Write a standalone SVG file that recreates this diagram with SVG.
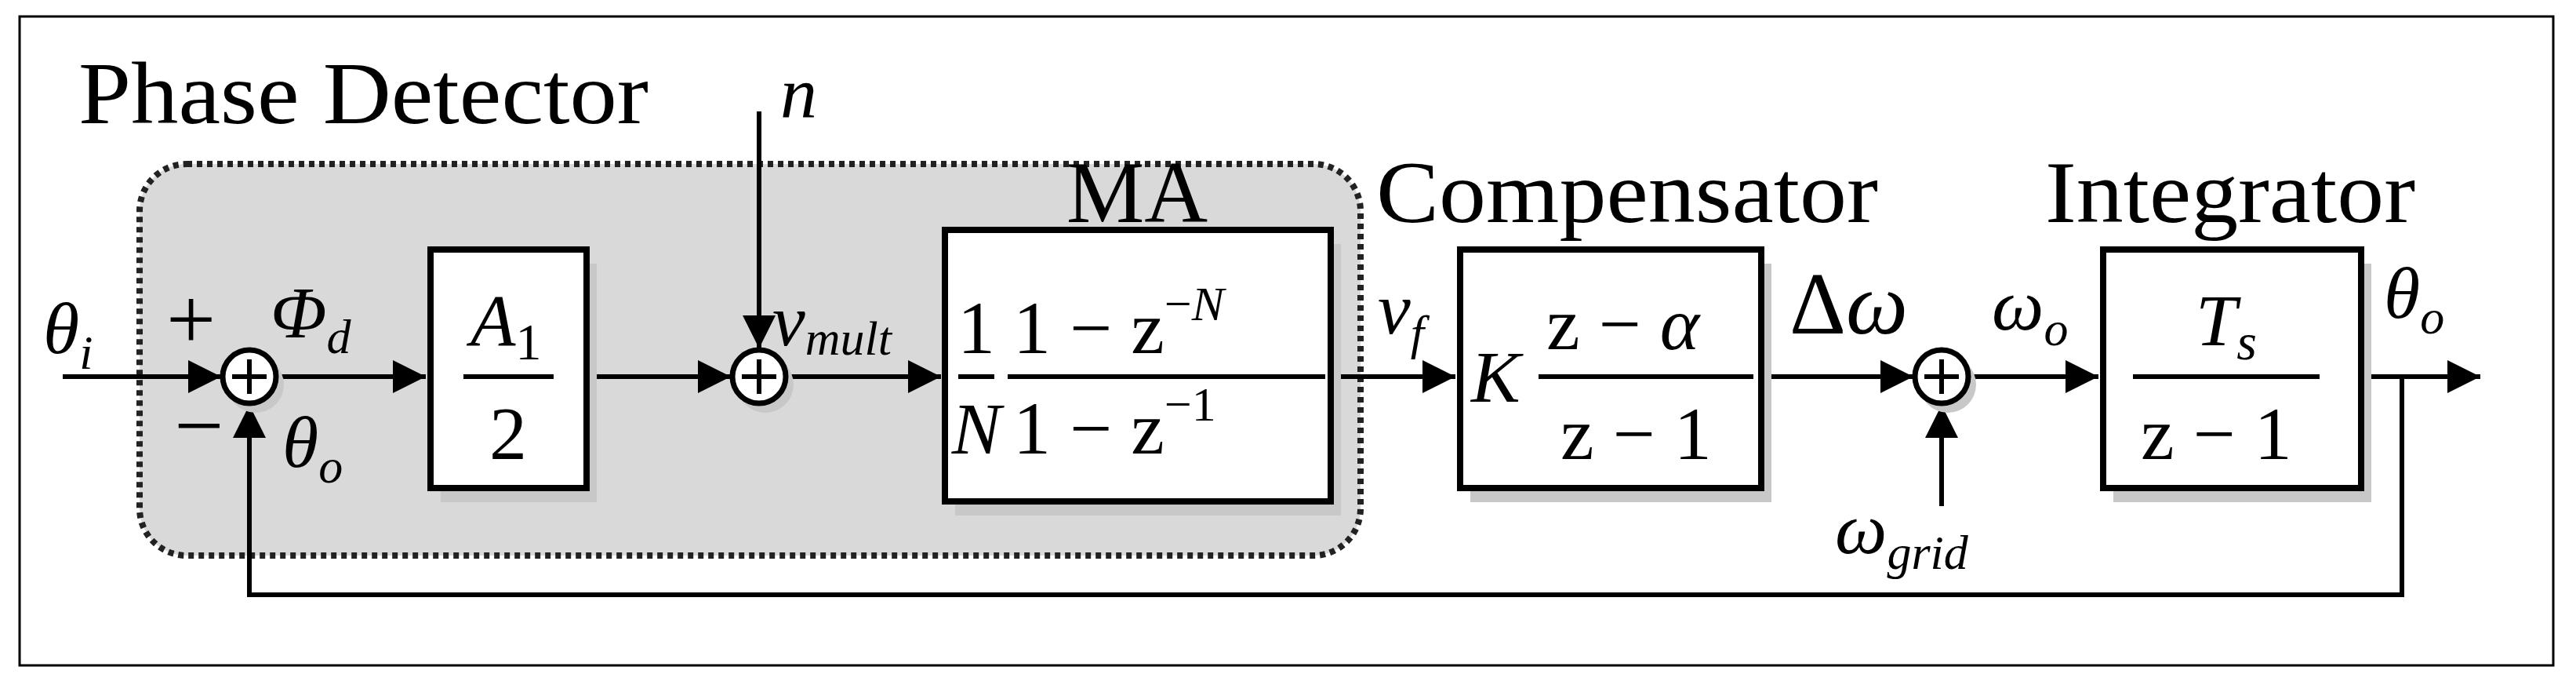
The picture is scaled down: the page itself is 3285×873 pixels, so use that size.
<svg xmlns="http://www.w3.org/2000/svg" width="3285" height="873" viewBox="0 0 3285 873">
<defs>
<style>
.box{fill:#fff;stroke:#000;stroke-width:8}
.sh{fill:#c8c8c8}
.ln{fill:none;stroke:#000;stroke-width:6}
.t{font-family:"Liberation Serif","Times New Roman",serif;fill:#000;font-size:112px}
.m{font-family:"Liberation Serif","Times New Roman",serif;font-style:italic;fill:#000;font-size:94px}
.f{font-family:"Liberation Serif","Times New Roman",serif;fill:#000;font-size:96px}
.fl{stroke:#000;stroke-width:6}
</style>
<marker id="a" viewBox="0 0 10 10" refX="10" refY="5" markerWidth="9" markerHeight="7" orient="auto"><path d="M0,0L10,5L0,10z" fill="#000"/></marker>
</defs>
<rect x="25" y="21" width="3231" height="827" fill="#fff" stroke="#000" stroke-width="3"/>
<g id="phase-detector">
<rect x="178" y="209" width="1557" height="499" rx="60" fill="#d9d9d9" stroke="#222" stroke-width="8" stroke-dasharray="7,6"/>
<text class="t" x="100" y="157" textLength="727" lengthAdjust="spacingAndGlyphs">Phase Detector</text>
</g>
<g id="connectors">
<path class="ln" d="M80,480H282" marker-end="url(#a)"/>
<path class="ln" d="M354,480H543" marker-end="url(#a)"/>
<path class="ln" d="M752,480H932" marker-end="url(#a)"/>
<path class="ln" d="M968,142V444" marker-end="url(#a)"/>
<path class="ln" d="M1004,480H1200" marker-end="url(#a)"/>
<path class="ln" d="M1701,480H1856" marker-end="url(#a)"/>
<path class="ln" d="M2250,480H2440" marker-end="url(#a)"/>
<path class="ln" d="M2476,645V516" marker-end="url(#a)"/>
<path class="ln" d="M2512,480H2676" marker-end="url(#a)"/>
<path class="ln" d="M3015,480H3163" marker-end="url(#a)"/>
<path class="ln" d="M3063,480V758H318V516" marker-end="url(#a)"/>
</g>
<g id="sum1"><circle cx="326" cy="490" r="36" class="sh"/><circle cx="318" cy="480" r="34" fill="#fff" stroke="#000" stroke-width="7"/><path class="fl" d="M296,480H340M318,458V502" stroke-width="7"/></g>
<g id="sum2"><circle cx="976" cy="490" r="36" class="sh"/><circle cx="968" cy="480" r="34" fill="#fff" stroke="#000" stroke-width="7"/><path class="fl" d="M946,480H990M968,458V502" stroke-width="7"/></g>
<g id="sum3"><circle cx="2484" cy="490" r="36" class="sh"/><circle cx="2476" cy="480" r="34" fill="#fff" stroke="#000" stroke-width="7"/><path class="fl" d="M2454,480H2498M2476,458V502" stroke-width="7"/></g>
<g id="gain">
<rect x="562" y="336" width="199" height="304" class="sh"/>
<rect x="549" y="318" width="199" height="304" class="box"/>
<text class="m" x="600" y="440" font-size="100">A<tspan font-style="normal" font-size="66" dy="18">1</tspan></text>
<line class="fl" x1="591" y1="480" x2="706" y2="480"/>
<text class="f" x="648" y="585" text-anchor="middle" font-size="100">2</text>
</g>
<g id="ma">
<rect x="1218" y="311" width="492" height="346" class="sh"/>
<rect x="1205" y="293" width="492" height="346" class="box"/>
<text class="t" x="1450" y="283" text-anchor="middle">MA</text>
<text class="f" x="1245" y="450" text-anchor="middle">1</text>
<line class="fl" x1="1222" y1="480" x2="1268" y2="480"/>
<text class="m" x="1245" y="578" text-anchor="middle" font-size="96">N</text>
<line class="fl" x1="1285" y1="480" x2="1690" y2="480"/>
<text class="f" x="1292" y="450">1 − z<tspan font-size="62" dy="-42">−<tspan font-style="italic">N</tspan></tspan></text>
<text class="f" x="1292" y="578">1 − z<tspan font-size="62" dy="-42">−1</tspan></text>
</g>
<g id="compensator">
<rect x="1875" y="336" width="384" height="304" class="sh"/>
<rect x="1862" y="318" width="384" height="304" class="box"/>
<text class="t" x="1755" y="283" textLength="640" lengthAdjust="spacingAndGlyphs">Compensator</text>
<text class="m" x="1876" y="512" font-size="96">K</text>
<line class="fl" x1="1962" y1="480" x2="2236" y2="480"/>
<text class="f" x="1972" y="445">z − <tspan font-style="italic">α</tspan></text>
<text class="f" x="1990" y="585">z − 1</text>
</g>
<g id="integrator">
<rect x="2695" y="336" width="329" height="304" class="sh"/>
<rect x="2682" y="318" width="329" height="304" class="box"/>
<text class="t" x="2608" y="283" textLength="472" lengthAdjust="spacingAndGlyphs">Integrator</text>
<text class="m" x="2800" y="440" font-size="100">T<tspan font-size="66" dy="18">s</tspan></text>
<line class="fl" x1="2720" y1="480" x2="2958" y2="480"/>
<text class="f" x="2730" y="585">z − 1</text>
</g>
<g id="labels">
<text class="m" x="55" y="450">θ<tspan font-size="62" dy="20">i</tspan></text>
<text class="t" x="212" y="445" font-size="90">+</text>
<text class="t" x="222" y="580" font-size="90">−</text>
<text class="m" x="345" y="430">Φ<tspan font-size="62" dy="20">d</tspan></text>
<text class="m" x="360" y="595">θ<tspan font-size="62" dy="20">o</tspan></text>
<text class="m" x="995" y="150">n</text>
<text class="m" x="985" y="440">v<tspan font-size="62" dy="12">mult</tspan></text>
<text class="m" x="1757" y="425">v<tspan font-size="62" dy="20">f</tspan></text>
<text class="t" x="2282" y="425" font-size="94">Δ<tspan font-style="italic">ω</tspan></text>
<text class="m" x="2540" y="420">ω<tspan font-size="62" dy="20">o</tspan></text>
<text class="m" x="3040" y="405">θ<tspan font-size="62" dy="20">o</tspan></text>
<text class="m" x="2340" y="705">ω<tspan font-size="62" dy="20">grid</tspan></text>
</g>
</svg>
